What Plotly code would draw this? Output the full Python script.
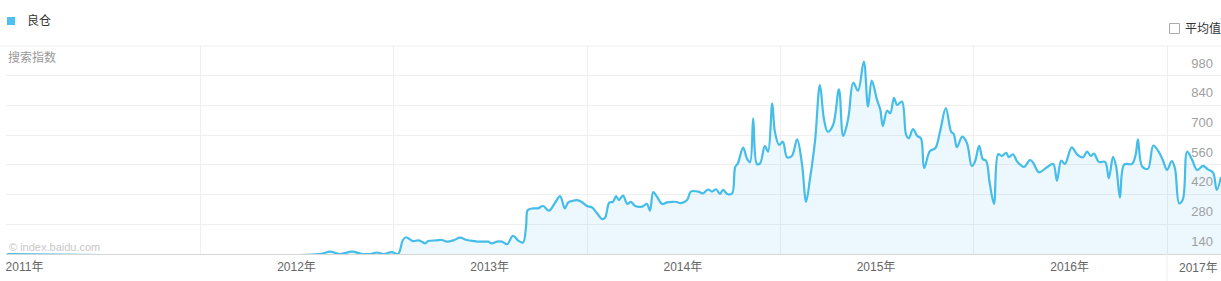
import plotly.graph_objects as go

# ---- data (Baidu index, 良仓) ----
dates = [
    "2011-01-01", "2012-08-14", "2012-09-02", "2012-09-21", "2012-10-14", "2012-11-02",
    "2012-11-17", "2012-11-30", "2012-12-13", "2012-12-28", "2013-01-09", "2013-01-18",
    "2013-01-24", "2013-02-06", "2013-02-16", "2013-02-23", "2013-03-01", "2013-03-07",
    "2013-03-22", "2013-04-02", "2013-04-11", "2013-04-25", "2013-05-06", "2013-05-19",
    "2013-06-01", "2013-06-13", "2013-06-28", "2013-07-05", "2013-07-15", "2013-07-24",
    "2013-08-03", "2013-08-14", "2013-08-24", "2013-09-02", "2013-09-08", "2013-09-11",
    "2013-09-21", "2013-09-30", "2013-10-10", "2013-10-21", "2013-11-01", "2013-11-11",
    "2013-11-20", "2013-11-26", "2013-12-04", "2013-12-13", "2013-12-22", "2014-01-01",
    "2014-01-10", "2014-01-20", "2014-01-29", "2014-02-04", "2014-02-12", "2014-02-19",
    "2014-02-25", "2014-03-02", "2014-03-10", "2014-03-18", "2014-03-25", "2014-04-02",
    "2014-04-15", "2014-04-24", "2014-04-30", "2014-05-06", "2014-05-13", "2014-05-23",
    "2014-06-01", "2014-06-11", "2014-06-20", "2014-06-26", "2014-07-09", "2014-07-16",
    "2014-07-30", "2014-08-08", "2014-08-18", "2014-08-25", "2014-09-02", "2014-09-09",
    "2014-09-15", "2014-09-23", "2014-10-02", "2014-10-08", "2014-10-13", "2014-10-23",
    "2014-10-30", "2014-11-05", "2014-11-11", "2014-11-18", "2014-11-24", "2014-12-03",
    "2014-12-09", "2014-12-17", "2014-12-22", "2014-12-30", "2015-01-06", "2015-01-14",
    "2015-01-23", "2015-02-02", "2015-02-11", "2015-02-19", "2015-02-26", "2015-03-08",
    "2015-03-17", "2015-03-25", "2015-04-01", "2015-04-11", "2015-04-22", "2015-04-30",
    "2015-05-07", "2015-05-11", "2015-05-19", "2015-05-28", "2015-06-08", "2015-06-16",
    "2015-06-23", "2015-07-03", "2015-07-09", "2015-07-14", "2015-07-22", "2015-07-28",
    "2015-08-04", "2015-08-10", "2015-08-19", "2015-08-27", "2015-09-01", "2015-09-09",
    "2015-09-17", "2015-09-24", "2015-09-30", "2015-10-11", "2015-10-21", "2015-10-30",
    "2015-11-10", "2015-11-20", "2015-11-25", "2015-12-01", "2015-12-11", "2015-12-20",
    "2015-12-29", "2016-01-04", "2016-01-12", "2016-01-19", "2016-01-25", "2016-02-01",
    "2016-02-09", "2016-02-17", "2016-02-24", "2016-03-03", "2016-03-08", "2016-03-16",
    "2016-03-24", "2016-04-06", "2016-04-17", "2016-04-23", "2016-05-04", "2016-05-19",
    "2016-05-31", "2016-06-07", "2016-06-15", "2016-06-22", "2016-07-05", "2016-07-15",
    "2016-07-26", "2016-08-03", "2016-08-10", "2016-08-16", "2016-08-25", "2016-09-06",
    "2016-09-13", "2016-09-21", "2016-09-27", "2016-10-04", "2016-10-12", "2016-10-27",
    "2016-11-03", "2016-11-07", "2016-11-15", "2016-11-26", "2016-12-06", "2016-12-15",
    "2016-12-24", "2017-01-01", "2017-01-10", "2017-01-16", "2017-01-24", "2017-01-31",
    "2017-02-08", "2017-02-17", "2017-02-27", "2017-03-10", "2017-03-19", "2017-03-29",
    "2017-04-05", "2017-04-13",
]
values = [
    0, 0, 11, 0, 11, 0,
    0, 7, 0, 9, 0, 66,
    79, 61, 64, 58, 50, 61,
    64, 66, 58, 66, 77, 66,
    61, 58, 58, 50, 58, 58,
    46, 86, 63, 54, 137, 207,
    215, 215, 226, 204, 239, 273,
    215, 242, 250, 254, 245, 226,
    220, 192, 165, 171, 242, 246,
    273, 254, 275, 236, 246, 226,
    223, 236, 204, 292, 270, 236,
    243, 246, 245, 239, 254, 294,
    294, 286, 304, 294, 305, 283,
    302, 283, 285, 410, 427, 501,
    451, 432, 639, 424, 427, 509,
    482, 710, 576, 514, 529, 456,
    462, 540, 427, 246, 349, 537,
    796, 631, 576, 608, 776, 556,
    608, 663, 807, 769, 906, 694,
    817, 726, 682, 603, 675, 663,
    736, 702, 718, 561, 545, 588,
    556, 545, 405, 485, 498, 576,
    687, 576, 565, 503, 553, 522,
    415, 435, 509, 446, 440, 333,
    236, 470, 462, 477, 456, 470,
    435, 411, 443, 430, 385, 409,
    424, 345, 440, 424, 502, 469,
    455, 482, 462, 473, 434, 434,
    357, 458, 410, 266, 421, 425,
    471, 540, 412, 402, 511, 487,
    443, 396, 438, 404, 239, 258,
    482, 446, 396, 415, 399, 383,
    302, 363,
]

series_name = "良仓"
y_grid_values = [0, 140, 280, 420, 560, 700, 840, 980]
y_tick_labels = ["140", "280", "420", "560", "700", "840", "980"]
y_label_values = [60, 200, 340, 480, 620, 760, 900]
year_starts = ["2012-01-01", "2013-01-01", "2014-01-01", "2015-01-01", "2016-01-01", "2017-01-01"]
x_label_dates = ["2011-02-03", "2012-07-01", "2013-07-01", "2014-07-01", "2015-07-01", "2016-07-01"]
x_tick_labels = ["2011年", "2012年", "2013年", "2014年", "2015年", "2016年"]
last_label_date = "2017-03-02"
last_label_text = "2017年"

LINE = "#45bde9"
FONT = "Arial, 'Liberation Sans', 'Noto Sans CJK SC', sans-serif"

W, H = 1221, 281
L, R, T, B = 6, 0, 46, 27
PW, PH = W - L - R, H - T - B


def px(x):
    return (x - L) / PW


def py(y):
    return (H - B - y) / PH


fig = go.Figure()
fig.add_trace(go.Scatter(
    x=dates, y=values, name=series_name, mode="lines",
    line=dict(color=LINE, width=2.2, shape="spline", smoothing=1.0),
    fill="tozeroy", fillcolor="rgba(79,195,240,0.11)",
    hoverinfo="x+y", showlegend=False,
))

fig.update_layout(
    width=W, height=H, autosize=False,
    margin=dict(l=L, r=R, t=T, b=B, pad=0),
    paper_bgcolor="white", plot_bgcolor="white",
    font=dict(family=FONT, size=12, color="#666"),
    xaxis=dict(
        type="date", range=["2010-12-30", "2017-04-13"],
        tickvals=x_label_dates, ticktext=x_tick_labels,
        tickfont=dict(size=12, color="#666"),
        ticklabelstandoff=2,
        showgrid=False, ticks="", zeroline=False,
        showline=True, linecolor="#d6d6d6", linewidth=1,
        minor=dict(tickvals=year_starts, showgrid=True, gridcolor="#efefef", gridwidth=1, ticks=""),
        fixedrange=True,
    ),
    yaxis=dict(
        side="right", range=[0, 980],
        tickvals=y_label_values, ticktext=y_tick_labels,
        ticklabelposition="inside", ticks="", ticklabelstandoff=5,
        tickfont=dict(size=13, color="#a0a0a0"),
        showgrid=False, zeroline=False, showline=False,
        minor=dict(tickvals=y_grid_values, showgrid=True, gridcolor="#efefef", gridwidth=1, ticks=""),
        fixedrange=True,
    ),
)

shapes = [
    # legend swatch
    dict(type="rect", xref="paper", yref="paper", x0=px(7), x1=px(15), y0=py(25), y1=py(17),
         fillcolor="#4cc1f0", line=dict(width=0)),
    # checkbox
    dict(type="rect", xref="paper", yref="paper", x0=px(1169.5), x1=px(1179.5), y0=py(33.5), y1=py(23.5),
         fillcolor="white", line=dict(width=1, color="#aaa")),
    # top border across full width
    dict(type="line", xref="paper", yref="paper", x0=px(0), x1=1, y0=1, y1=1,
         line=dict(width=1, color="#efefef")),
    # 2017 separator extending into label row
    dict(type="line", xref="x", yref="paper", x0="2017-01-01", x1="2017-01-01", y0=py(281), y1=0,
         line=dict(width=1, color="#efefef")),
]
fig.update_layout(shapes=shapes)

annotations = [
    dict(text=series_name, x=px(25), y=py(21), xref="paper", yref="paper", xanchor="left", yanchor="middle",
         showarrow=False, font=dict(size=12, color="#333")),
    dict(text="平均值", x=px(1183), y=py(28), xref="paper", yref="paper", xanchor="left", yanchor="middle",
         showarrow=False, font=dict(size=12, color="#333")),
    dict(text="搜索指数", x=px(6), y=py(57), xref="paper", yref="paper", xanchor="left", yanchor="middle",
         showarrow=False, font=dict(size=12, color="#999")),
    dict(text="© index.baidu.com", x=px(7), y=py(247), xref="paper", yref="paper", xanchor="left", yanchor="middle",
         showarrow=False, font=dict(size=11, color="#c8c8c8")),
    dict(text=last_label_text, x=last_label_date, y=py(267.5), xref="x", yref="paper", xanchor="center",
         yanchor="middle", showarrow=False, font=dict(size=12, color="#666")),
]
fig.update_layout(annotations=annotations)

fig.write_html("out.html")
